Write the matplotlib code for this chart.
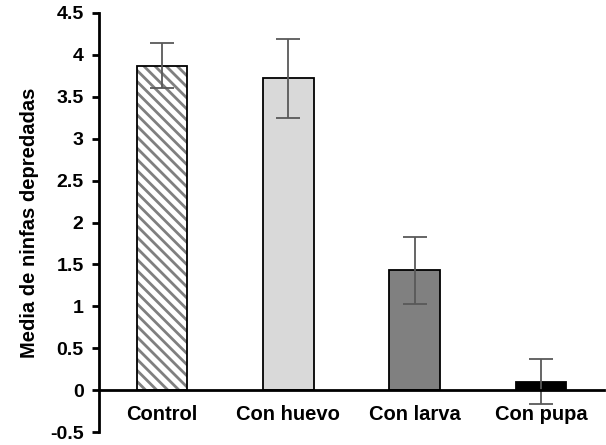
import matplotlib.pyplot as plt

plt.rcParams['font.family'] = ['Liberation Sans', 'DejaVu Sans']
plt.rcParams['hatch.linewidth'] = 2.0

categories = ['Control', 'Con huevo', 'Con larva', 'Con pupa']
means = [3.87, 3.72, 1.43, 0.10]
errors = [0.27, 0.47, 0.40, 0.27]
fills = ['white', '#d9d9d9', '#808080', 'black']

fig = plt.figure(figsize=(6.06, 4.45), dpi=100)
ax = fig.add_axes([0.163, 0.029, 0.834, 0.942])

x = range(len(categories))
width = 0.4

# hatched control bar: stripes drawn first in gray, outline on top
ax.bar(x[0], means[0], width, color='white', edgecolor='#808080',
       linewidth=0, hatch='\\\\\\', zorder=2)
ax.bar(x, means, width, color=['none'] + fills[1:], edgecolor='black',
       linewidth=1.3, zorder=3)
ax.errorbar(x, means, yerr=errors, fmt='none', ecolor='#595959',
            elinewidth=1.3, capsize=8.5, capthick=1.3, zorder=4)

ax.set_xlim(-0.5, 3.5)
ax.set_ylim(-0.5, 4.5)
ax.set_yticks([-0.5, 0, 0.5, 1, 1.5, 2, 2.5, 3, 3.5, 4, 4.5])
ax.set_yticklabels(['-0.5', '0', '0.5', '1', '1.5', '2', '2.5', '3', '3.5', '4', '4.5'])
ax.set_xticks(list(x))
ax.set_xticklabels(categories)

ax.spines['top'].set_visible(False)
ax.spines['right'].set_visible(False)
ax.spines['bottom'].set_position(('data', 0))
ax.spines['bottom'].set_linewidth(2)
ax.spines['left'].set_linewidth(2)
ax.spines['bottom'].set_zorder(5)

ax.tick_params(axis='x', length=0, pad=11, labelsize=14.5)
ax.tick_params(axis='y', length=5, width=2, direction='out', pad=6, labelsize=14)
for lab in ax.get_xticklabels() + ax.get_yticklabels():
    lab.set_fontweight('bold')

ax.set_ylabel('Media de ninfas depredadas', fontsize=14.5, fontweight='bold', labelpad=8)

fig.savefig('out.png', dpi=100)
